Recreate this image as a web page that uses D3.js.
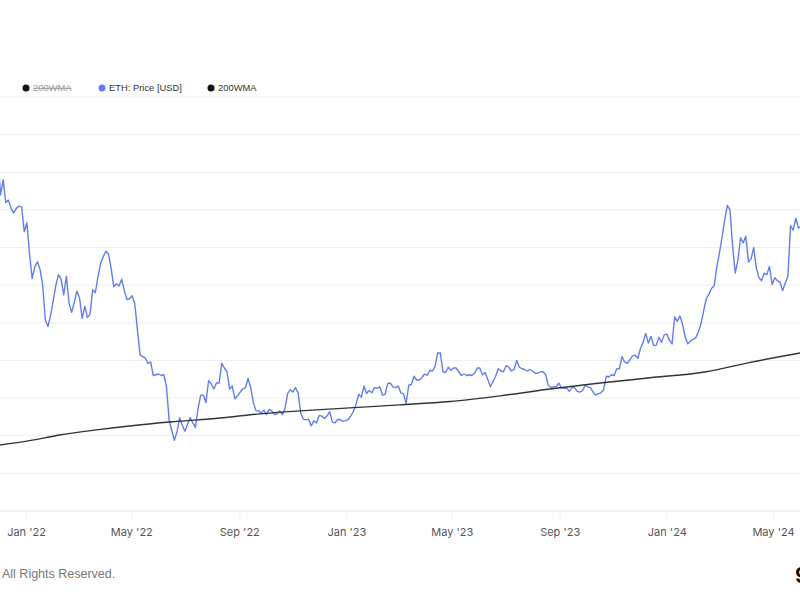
<!DOCTYPE html>
<html>
<head>
<meta charset="utf-8">
<script src="https://cdn.jsdelivr.net/npm/d3@7"></script>
<style>
  body { margin: 0; background: #fff; }
  text { font-family: Inter, "Noto Sans", sans-serif; }
</style>
</head>
<body>
<div id="chart"></div>
<script>
// ETH price, one reading every 3 days from 2021-11-30
const priceStart = "2021-11-30";
const priceStepDays = 3;
const priceValues = [
  4700, 4200, 4400, 4100, 4130, 4020, 3960, 4020, 4050, 4040, 3710, 3830,
  3420, 3090, 3240, 3310, 3210, 3000, 2540, 2450, 2600, 2790, 3000, 3140,
  3080, 2870, 3120, 2760, 2640, 2770, 2920, 2830, 2560, 2720, 2570, 2620,
  2940, 2900, 3110, 3290, 3380, 3450, 3410, 3220, 2980, 3020, 2990, 3080,
  2930, 2810, 2820, 2860, 2750, 2400, 2070, 2050, 2030, 1960, 1980, 1800,
  1810, 1820, 1800, 1810, 1660, 1210, 1070, 940, 1050, 1240, 1140, 1060,
  1150, 1240, 1170, 1110, 1360, 1540, 1540, 1440, 1730, 1690, 1620, 1700,
  1700, 1960, 1900, 1850, 1620, 1660, 1490, 1530, 1580, 1620, 1640, 1760,
  1640, 1440, 1330, 1330, 1300, 1340, 1280, 1350, 1330, 1280, 1290, 1330,
  1280, 1360, 1560, 1610, 1580, 1640, 1570, 1300, 1220, 1210, 1220, 1130,
  1200, 1170, 1270, 1260, 1230, 1265, 1320, 1180, 1170, 1215, 1215, 1190,
  1200, 1215, 1265, 1320, 1420, 1550, 1510, 1660, 1560, 1600, 1570, 1640,
  1630, 1650, 1540, 1550, 1690, 1700, 1650, 1640, 1660, 1570, 1560, 1430,
  1670, 1680, 1790, 1740, 1740, 1770, 1820, 1800, 1870, 1860, 1920, 2100,
  2100, 1850, 1840, 1910, 1870, 1900, 1900, 1850, 1800, 1820, 1800, 1810,
  1800, 1830, 1900, 1900, 1810, 1840, 1750, 1650, 1720, 1790, 1890, 1860,
  1850, 1930, 1910, 1860, 1880, 2000, 1910, 1890, 1880, 1860, 1880, 1860,
  1830, 1830, 1850, 1850, 1810, 1670, 1640, 1650, 1650, 1700, 1635, 1630,
  1630, 1590, 1640, 1640, 1590, 1580, 1600, 1670, 1650, 1640, 1580, 1540,
  1560, 1570, 1610, 1790, 1780, 1810, 1800, 1890, 1890, 2050, 1980, 1960,
  2010, 2060, 2070, 2030, 2160, 2240, 2360, 2230, 2320, 2200, 2200, 2310,
  2240, 2340, 2350, 2270, 2220, 2580, 2520, 2590, 2480, 2310, 2220, 2260,
  2280, 2300, 2380, 2490, 2660, 2820, 2880, 2960, 2990, 3240, 3430, 3640,
  3870, 4060, 4000, 3520, 3160, 3330, 3630, 3560, 3650, 3310, 3350, 3500,
  3230, 3100, 3060, 3160, 3140, 3250, 3010, 3100, 3060, 3040, 2930, 3030,
  3120, 3790, 3730, 3890, 3760, 3780
];

// 200-week moving average
const wmaDates = [
  "2021-12-02", "2022-01-05", "2022-02-08", "2022-03-20", "2022-04-29",
  "2022-06-17", "2022-08-10", "2022-09-24", "2022-11-09", "2023-01-05",
  "2023-03-03", "2023-04-29", "2023-06-25", "2023-08-21", "2023-10-17",
  "2023-12-13", "2024-02-15", "2024-04-01", "2024-06-01"
];
const wmaValues = [
  877, 935, 1010, 1075, 1130, 1185, 1235, 1290, 1330, 1370,
  1410, 1455, 1530, 1620, 1700, 1770, 1850, 1965, 2100
];

const yTicks = [500, 1000, 1500, 2000, 2500, 3000, 3500, 4000, 4500, 5000, 5500];

const legendItems = [
  { label: "200WMA", color: "#111", hidden: true, x: 26 },
  { label: "ETH: Price [USD]", color: "#627eea", hidden: false, x: 102 },
  { label: "200WMA", color: "#111", hidden: false, x: 211 }
];

const width = 800, height = 600;

const svg = d3.select("#chart").append("svg")
  .attr("width", width)
  .attr("height", height);

const parse = d3.utcParse("%Y-%m-%d");
const start = parse(priceStart);
const price = priceValues.map((v, i) => ({ date: d3.utcDay.offset(start, i * priceStepDays), value: v }));
const wma = wmaDates.map((d, i) => ({ date: parse(d), value: wmaValues[i] }));

const x = d3.scaleUtc()
  .domain([parse("2022-01-01"), parse("2024-05-01")])
  .range([26, 773]);

const y = d3.scaleLinear()
  .domain([0, 5500])
  .range([511, 97]);

// horizontal grid
svg.append("g")
  .selectAll("line")
  .data(yTicks)
  .join("line")
  .attr("x1", 0)
  .attr("x2", width)
  .attr("y1", d => y(d))
  .attr("y2", d => y(d))
  .attr("stroke", "#efefef")
  .attr("stroke-width", 1);

// x axis
const xAxis = svg.append("g")
  .attr("transform", `translate(0,${y(0)})`)
  .call(d3.axisBottom(x)
    .ticks(d3.utcMonth.every(4))
    .tickFormat(d3.utcFormat("%b '%y"))
    .tickSize(8)
    .tickPadding(9));
xAxis.select(".domain").attr("stroke", "#e8e8e8").attr("d", `M0,0H${width}`);
xAxis.selectAll(".tick line").attr("stroke", "#f0f0f0");
xAxis.selectAll(".tick text")
  .attr("fill", "#555")
  .style("font-size", "11px")
  .style("font-family", "Inter, 'Noto Sans', sans-serif");

svg.append("defs").append("clipPath")
  .attr("id", "plot")
  .append("rect")
  .attr("x", 0).attr("y", 90)
  .attr("width", width).attr("height", 421);

const line = d3.line()
  .x(d => x(d.date))
  .y(d => y(d.value));

svg.append("path")
  .datum(price)
  .attr("clip-path", "url(#plot)")
  .attr("fill", "none")
  .attr("stroke", "#627eea")
  .attr("stroke-width", 1.4)
  .attr("stroke-linejoin", "round")
  .attr("d", line);

svg.append("path")
  .datum(wma)
  .attr("clip-path", "url(#plot)")
  .attr("fill", "none")
  .attr("stroke", "#333")
  .attr("stroke-width", 1.4)
  .attr("d", line.curve(d3.curveMonotoneX));

// legend
const legend = svg.append("g")
  .selectAll("g")
  .data(legendItems)
  .join("g")
  .attr("transform", d => `translate(${d.x},88)`);

legend.append("circle")
  .attr("r", 3.5)
  .attr("fill", d => d.color);

legend.append("text")
  .attr("x", 7)
  .attr("dy", "0.35em")
  .style("font-size", "9.4px")
  .style("font-family", "'Liberation Sans', Arial, sans-serif")
  .attr("fill", d => d.hidden ? "#999" : "#333")
  .style("text-decoration", d => d.hidden ? "line-through" : null)
  .text(d => d.label);

// footer
svg.append("text")
  .attr("x", 2)
  .attr("y", 578)
  .attr("fill", "#777")
  .style("font-size", "12.5px")
  .style("font-family", "'Liberation Sans', Arial, sans-serif")
  .text("All Rights Reserved.");

svg.append("text")
  .attr("x", 795)
  .attr("y", 583)
  .attr("fill", "#111")
  .style("font-size", "21px")
  .style("font-weight", "700")
  .text("9");
</script>
</body>
</html>
